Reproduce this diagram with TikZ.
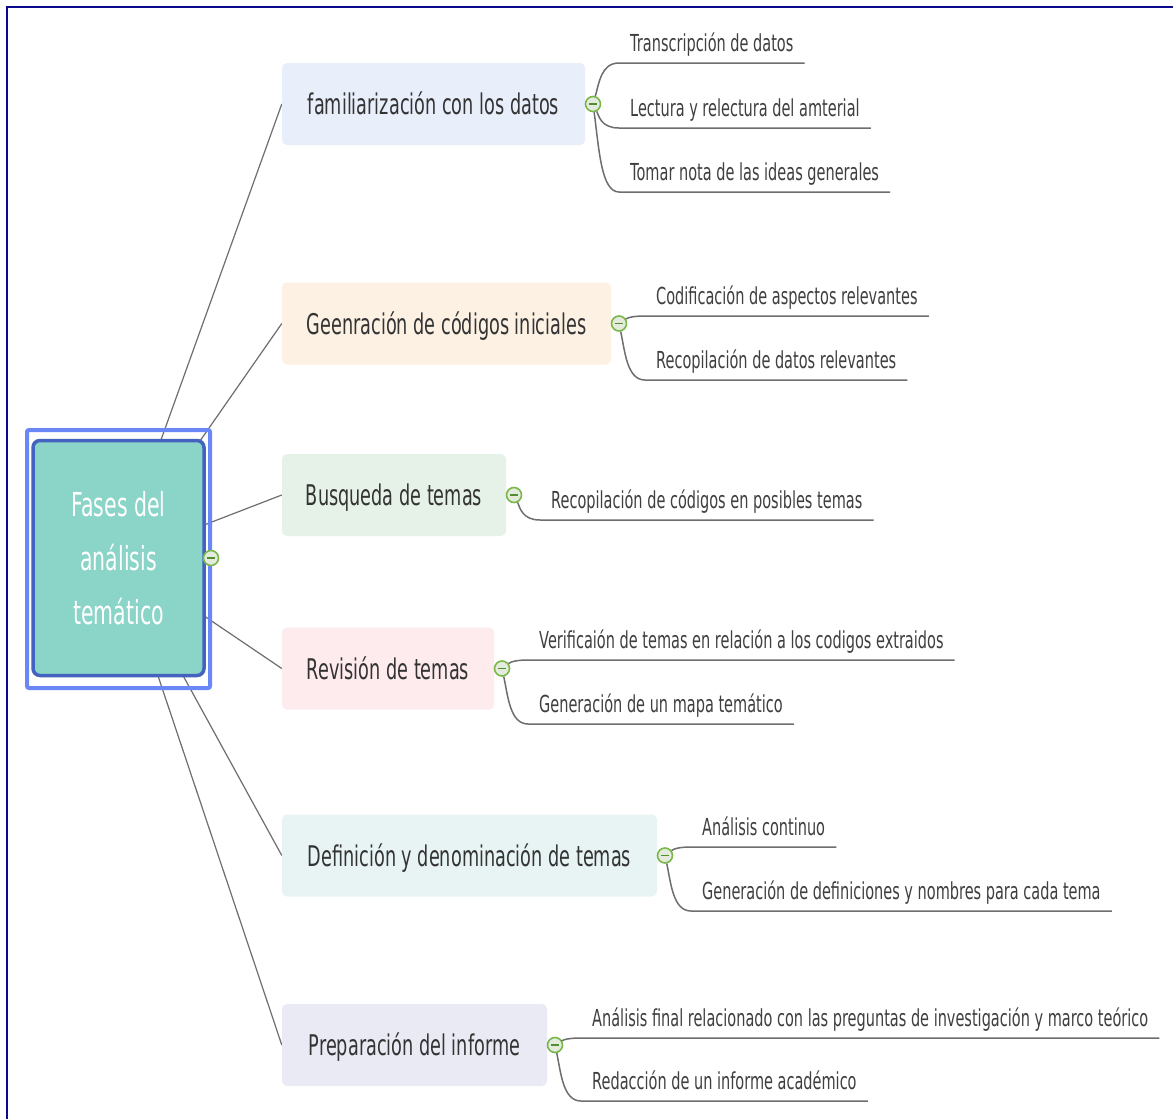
\documentclass[tikz,border=0pt]{standalone}
\usepackage{fontspec}
\setmainfont{DejaVu Sans}[FakeStretch=0.62]
\usetikzlibrary{calc,backgrounds}
\definecolor{framenavy}{HTML}{0A0A8A}
\definecolor{selblue}{HTML}{6B86F5}
\definecolor{rootfill}{HTML}{8AD4C8}
\definecolor{rootdraw}{HTML}{4462C0}
\definecolor{bA}{HTML}{E9EEFB}
\definecolor{bB}{HTML}{FDF1E4}
\definecolor{bC}{HTML}{E6F2E8}
\definecolor{bD}{HTML}{FDEBED}
\definecolor{bE}{HTML}{E8F4F4}
\definecolor{bF}{HTML}{EAEAF4}
\definecolor{textdark}{HTML}{333333}
\definecolor{leafgray}{HTML}{3F3F3F}
\definecolor{linegray}{HTML}{6E6E6E}
\definecolor{togglegreen}{HTML}{7AB84A}
\definecolor{togglefill}{HTML}{E4EBDD}
\definecolor{toggleminus}{HTML}{4F8F30}
\tikzset{
  branchbox/.style={rounded corners=5pt, minimum height=82pt, inner sep=0pt,
    text height=21pt, text depth=0pt, font=\fontsize{28.5}{34}\selectfont, text=textdark},
  rootbox/.style={rounded corners=7pt, draw=rootdraw, fill=rootfill, line width=3.5pt,
    minimum width=171pt, minimum height=235pt, inner sep=0pt, align=center,
    text=white, font=\fontsize{33}{54}\selectfont},
  selframe/.style={draw=selblue, line width=4pt, rounded corners=2pt},
  leaftext/.style={inner sep=0pt, anchor=base west, font=\fontsize{23.4}{28}\selectfont, text=leafgray},
  leafline/.style={draw=linegray, line width=1.5pt},
  spoke/.style={draw=linegray, line width=1.2pt},
  toggle/.style={circle, draw=togglegreen, fill=togglefill, line width=1.6pt,
    minimum size=15pt, inner sep=0pt,
    path picture={\draw[toggleminus, line width=1.8pt]
      ($(path picture bounding box.center)+(-4,0)$) -- ++(8,0);}},
}
\newcommand\mmleaf[6]{%
  \node[leaftext] (#2) at ({#3+37},{#5-12}) {#6};
  \draw[leafline] (#1) .. controls ({#3+6},{(#4+#5)/2}) and ({#3+8},#5) .. ({#3+26},#5)
     -- ($(#2.base east)+(11,12)$);
}
\begin{document}
\begin{tikzpicture}[x=1pt,y=-1pt]
\useasboundingbox (0,0) rectangle (1173,1119);
\draw[framenavy, line width=2.5pt] (7,1119) -- (7,7) -- (1173,7);

% branches
\node[branchbox, fill=bA, minimum width=303pt] (b1) at (433.5,104) {familiarización con los datos};
\node[branchbox, fill=bB, minimum width=329pt] (b2) at (446.5,323.5) {Geenración de códigos iniciales};
\node[branchbox, fill=bC, minimum width=224pt] (b3) at (394,495) {Busqueda de temas};
\node[branchbox, fill=bD, minimum width=212pt] (b4) at (388,668.5) {Revisión de temas};
\node[branchbox, fill=bE, minimum width=375pt] (b5) at (469.5,855.5) {Definición y denominación de temas};
\node[branchbox, fill=bF, minimum width=265pt] (b6) at (414.5,1045) {Preparación del informe};

% root
\draw[selframe] (27,430) rectangle (210,688);
\node[rootbox] (root) at (118.5,558) {Fases del\\análisis\\temático};
\node[toggle] (c0) at (211,558) {};

\begin{scope}[on background layer]
  \fill[white] (0,0) rectangle (1173,1119);
  \foreach \b in {b1,b2,b3,b4,b5,b6} { \draw[spoke] (root.center) -- (\b.west); }
\end{scope}

% toggles
\node[toggle] (c1) at (593,104) {};
\node[toggle] (c2) at (619,323.5) {};
\node[toggle] (c3) at (514,495) {};
\node[toggle] (c4) at (502,668.5) {};
\node[toggle] (c5) at (665,855.5) {};
\node[toggle] (c6) at (555,1045) {};

% leaves
\mmleaf{c1}{l11}{593}{104}{63}{Transcripción de datos}
\mmleaf{c1}{l12}{593}{104}{128}{Lectura y relectura del amterial}
\mmleaf{c1}{l13}{593}{104}{192}{Tomar nota de las ideas generales}
\mmleaf{c2}{l21}{619}{323.5}{316}{Codificación de aspectos relevantes}
\mmleaf{c2}{l22}{619}{323.5}{380}{Recopilación de datos relevantes}
\mmleaf{c3}{l31}{514}{495}{520}{Recopilación de códigos en posibles temas}
\mmleaf{c4}{l41}{502}{668.5}{660}{Verificaión de temas en relación a los codigos extraidos}
\mmleaf{c4}{l42}{502}{668.5}{724}{Generación de un mapa temático}
\mmleaf{c5}{l51}{665}{855.5}{847}{Análisis continuo}
\mmleaf{c5}{l52}{665}{855.5}{911}{Generación de definiciones y nombres para cada tema}
\mmleaf{c6}{l61}{555}{1045}{1038}{Análisis final relacionado con las preguntas de investigación y marco teórico}
\mmleaf{c6}{l62}{555}{1045}{1101}{Redacción de un informe académico}
\end{tikzpicture}
\end{document}
